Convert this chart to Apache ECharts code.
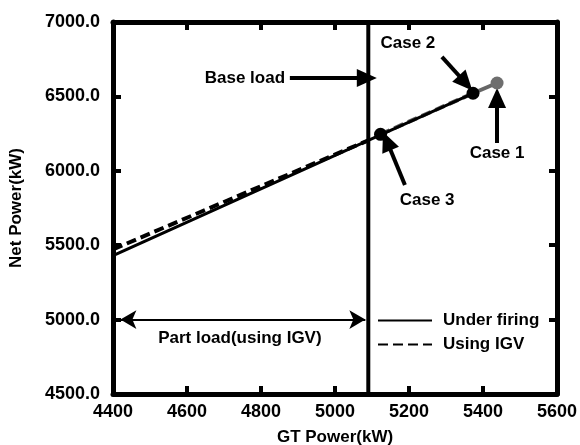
<!DOCTYPE html>
<html>
<head>
<meta charset="utf-8">
<script src="https://cdn.jsdelivr.net/npm/echarts@6/dist/echarts.min.js"></script>
<style>
  html, body { margin: 0; padding: 0; background: #fff; }
  #chart { width: 580px; height: 445px; }
</style>
</head>
<body>
<div id="chart"></div>
<script>
// GT power vs net power: under firing / using IGV

const xTicks = [4400, 4600, 4800, 5000, 5200, 5400, 5600];
const yTicks = [4500, 5000, 5500, 6000, 6500, 7000];

const underFiring = [[4400, 5430], [5090, 6205], [5373, 6521]];
const usingIGV = [[4400, 5472], [5090, 6205]];
const caseDashed = [[5123, 6245], [5373, 6521]];
const caseSolid = [[5373, 6521], [5438, 6590]];
const baseLoadX = 5090;

const caseNames = ["Case 1", "Case 2", "Case 3"];
const casePoints = [[5438, 6590], [5373, 6521], [5123, 6245]];
const caseColors = ["#6e6e6e", "#000", "#000"];

// annotation arrows: [from, to]
const bigArrows = [
  [[4878, 6624], [5086, 6624]],   // Base load
  [[5289, 6765], [5353, 6590]],   // Case 2
  [[5438, 6187], [5438, 6490]],   // Case 1
  [[5189, 5905], [5140, 6200]]    // Case 3
];
const partLoadArrow = [[4420, 5000], [5082, 5000]];

// text notes: [x, y, text, align]
const notes = [
  [4865, 6624, "Base load", "right"],
  [5197, 6859, "Case 2", "center"],
  [5438, 6118, "Case 1", "center"],
  [5249, 5804, "Case 3", "center"],
  [4743, 4872, "Part load(using IGV)", "center"]
];

const FONT = "'Liberation Sans', Arial, sans-serif";
const txt = { color: "#000", fontFamily: FONT, fontWeight: "bold", fontSize: 17 };
const tickTxt = Object.assign({}, txt, { fontSize: 18 });

const chart = echarts.init(document.getElementById("chart"), null, { renderer: "canvas" });

const axisBase = {
  axisLine: { show: true, onZero: false, lineStyle: { color: "#000", width: 5 } },
  axisTick: { show: true, inside: true, length: 8, lineStyle: { color: "#000", width: 4 } },
  splitLine: { show: false }
};

chart.setOption({
  animation: false,
  backgroundColor: "#fff",
  grid: { left: 113, right: 23, top: 22, bottom: 51, containLabel: false, outerBoundsMode: "none" },
  xAxis: [
    Object.assign({}, axisBase, {
      type: "value", min: 4400, max: 5600, interval: 200,
      name: "GT Power(kW)", nameLocation: "middle", nameGap: 35,
      nameTextStyle: txt,
      axisLabel: Object.assign({ margin: 9, formatter: (v) => String(v) }, tickTxt)
    }),
    Object.assign({}, axisBase, {
      type: "value", position: "top", min: 4400, max: 5600, interval: 200,
      axisLabel: { show: false }
    })
  ],
  yAxis: [
    Object.assign({}, axisBase, {
      type: "value", min: 4500, max: 7000, interval: 500,
      name: "Net Power(kW)", nameLocation: "middle", nameGap: 88,
      nameTextStyle: txt,
      axisLabel: Object.assign({ margin: 13, formatter: (v) => v.toFixed(1) }, tickTxt)
    }),
    Object.assign({}, axisBase, {
      type: "value", position: "right", min: 4500, max: 7000, interval: 500,
      axisLabel: { show: false }
    })
  ],
  legend: {
    data: ["Under firing", "Using IGV"],
    orient: "vertical",
    left: 372, top: 307,
    itemWidth: 54, itemHeight: 16, itemGap: 7,
    itemStyle: { opacity: 0 },
    textStyle: Object.assign({ padding: [0, 0, 0, 6] }, txt)
  },
  series: [
    {
      name: "Using IGV", type: "line", data: usingIGV, symbol: "none",
      itemStyle: { color: "#000" },
      lineStyle: { color: "#000", width: 4, type: [10, 5] }, z: 3
    },
    {
      name: "Under firing", type: "line", data: underFiring, symbol: "none",
      itemStyle: { color: "#000" },
      lineStyle: { color: "#000", width: 3 }, z: 4
    },
    {
      name: "caseDashed", type: "line", data: caseDashed, symbol: "none",
      lineStyle: { color: "#555", width: 4, type: [10, 5] }, z: 2
    },
    {
      name: "caseSolid", type: "line", data: caseSolid, symbol: "none",
      lineStyle: { color: "#666", width: 4 }, z: 2
    },
    {
      name: "baseLine", type: "line", symbol: "none",
      data: [[baseLoadX, 4500], [baseLoadX, 7000]],
      lineStyle: { color: "#000", width: 4 }, z: 5
    },
    {
      name: "cases", type: "scatter", symbolSize: 13, z: 6,
      data: casePoints.map((p, i) => ({
        name: caseNames[i], value: p,
        itemStyle: { color: caseColors[i], opacity: 1 }
      }))
    },
    {
      name: "arrows", type: "line", data: [], z: 6,
      markLine: {
        silent: true, animation: false,
        symbol: ["none", "triangle"], symbolSize: [18, 20],
        label: { show: false },
        itemStyle: { color: "#000" },
        lineStyle: { color: "#000", width: 4, type: "solid" },
        data: bigArrows.map((a) => [{ coord: a[0] }, { coord: a[1] }])
      }
    },
    {
      name: "partArrow", type: "line", data: [], z: 6,
      markLine: {
        silent: true, animation: false,
        symbol: ["arrow", "arrow"], symbolSize: [14, 16],
        label: { show: false },
        itemStyle: { color: "#000" },
        lineStyle: { color: "#000", width: 2, type: "solid" },
        data: [[{ coord: partLoadArrow[0] }, { coord: partLoadArrow[1] }]]
      }
    },
    {
      name: "notes", type: "scatter", symbolSize: 0, z: 7, silent: true,
      itemStyle: { opacity: 1 },
      data: notes.map((n) => ({
        value: [n[0], n[1]],
        label: Object.assign({
          show: true, position: "inside", formatter: n[2],
          align: n[3], verticalAlign: "middle",
          textBorderWidth: 0, opacity: 1
        }, txt)
      }))
    }
  ]
});
</script>
</body>
</html>
